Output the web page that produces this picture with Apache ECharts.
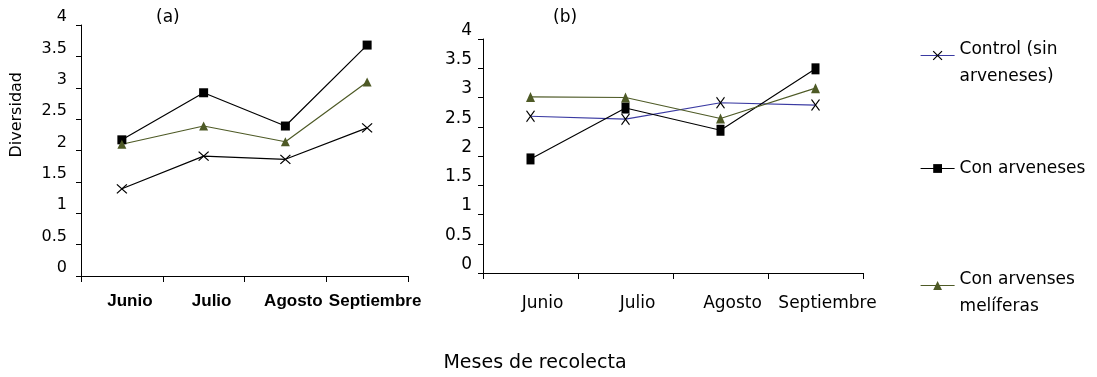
<!DOCTYPE html>
<html>
<head>
<meta charset="utf-8">
<script src="https://cdn.jsdelivr.net/npm/echarts@6/dist/echarts.min.js"></script>
<style>
html,body{margin:0;padding:0;background:#fff;}
#chart{width:1097px;height:377px;}
</style>
</head>
<body>
<div id="chart"></div>
<script>
// ---- data ----
var months = ['Junio', 'Julio', 'Agosto', 'Septiembre'];
var seriesNames = ['Control (sin arveneses)', 'Con arveneses', 'Con arvenses melíferas'];
var yTicks = [0, 0.5, 1, 1.5, 2, 2.5, 3, 3.5, 4];

// panel (a)
var aControl = [1.39, 1.91, 1.86, 2.36];
var aArveneses = [2.17, 2.92, 2.39, 3.68];
var aMeliferas = [2.10, 2.39, 2.14, 3.09];

// panel (b)
var bControl = [2.68, 2.63, 2.91, 2.87];
var bArveneses = [1.95, 2.82, 2.44, 3.49];
var bMeliferas = [3.01, 3.00, 2.64, 3.16];

// ---- styles ----
var OLIVE = '#4e5a26';
var BLUE = '#3a3aa2';
var XPATH = 'path://M0,0L10,10M10,0L0,10';
var FONT = 'DejaVu Sans';

var chart = echarts.init(document.getElementById('chart'));

function yAxisCfg(gridIndex, size, margin) {
  return {
    type: 'value', gridIndex: gridIndex, min: 0, max: 4, interval: 0.5,
    axisLine: {show: true, lineStyle: {color: '#000', width: 1}},
    axisTick: {show: true, inside: false, length: 5, lineStyle: {color: '#000'}},
    splitLine: {show: false},
    axisLabel: {
      color: '#000', fontFamily: FONT, fontSize: size, margin: margin,
      verticalAlign: 'bottom',
      formatter: function (v) { return yTicks.indexOf(v) >= 0 ? String(v) : ''; }
    }
  };
}

function xAxisCfg(gridIndex, labelStyle) {
  labelStyle.interval = 0;
  return {
    type: 'category', gridIndex: gridIndex, data: months, boundaryGap: true,
    axisLine: {show: true, lineStyle: {color: '#000', width: 1}},
    axisTick: {show: true, alignWithLabel: false, interval: 0, length: 6, lineStyle: {color: '#000'}},
    axisLabel: labelStyle
  };
}

function lineSeries(name, data, idx, lineColor, symbol, size, symColor, isX, lw) {
  return {
    name: name, type: 'line', xAxisIndex: idx, yAxisIndex: idx, data: data,
    symbol: symbol, symbolSize: size, showSymbol: true,
    lineStyle: {color: lineColor, width: lw},
    itemStyle: isX ? {color: 'rgba(0,0,0,0)', borderColor: symColor, borderWidth: 1.2}
                   : {color: symColor, borderWidth: 0},
    emphasis: {disabled: true},
    animation: false
  };
}

function legendCfg(i, top, lineColor, symColor, isX) {
  var label = seriesNames[i];
  var fmt;
  if (i === 0) fmt = '{s|}\n{t|Control (sin}\n{t|arveneses)}';
  else if (i === 2) fmt = '{s|}\n{t|Con arvenses}\n{t|melíferas}';
  else fmt = '{t|' + label + '}';
  return {
    left: 920, top: top, padding: 0, orient: 'vertical',
    itemWidth: 34, itemHeight: 11,
    selectedMode: false,
    data: [{
      name: label,
      itemStyle: isX ? {color: 'rgba(0,0,0,0)', borderColor: symColor, borderWidth: 1.2}
                     : {color: symColor, borderWidth: 0},
      lineStyle: {color: lineColor, width: 1.2}
    }],
    formatter: function () { return fmt; },
    textStyle: {
      color: '#000', fontFamily: FONT, fontSize: 17,
      rich: {
        s: {lineHeight: 16, fontSize: 1},
        t: {lineHeight: 27, fontSize: 17, fontFamily: FONT, color: '#000'}
      }
    }
  };
}

var option = {
  backgroundColor: '#fff',
  animation: false,
  title: [
    {text: '(a)', left: 156, top: 9, padding: 0,
     textStyle: {fontFamily: FONT, fontSize: 17, fontWeight: 'normal', color: '#000'}},
    {text: '(b)', left: 553, top: 9, padding: 0,
     textStyle: {fontFamily: FONT, fontSize: 17, fontWeight: 'normal', color: '#000'}},
    {text: 'Meses de recolecta', left: 535, top: 354, textAlign: 'center', padding: 0,
     textStyle: {fontFamily: FONT, fontSize: 19, fontWeight: 'normal', color: '#000'}}
  ],
  graphic: [{
    type: 'text', left: 9, top: 72, rotation: Math.PI / 2,
    style: {text: 'Diversidad', fontFamily: FONT, fontSize: 16, fill: '#000'}
  }],
  legend: [
    legendCfg(0, 28, BLUE, '#000', true),
    legendCfg(1, 160, '#000', '#000', false),
    legendCfg(2, 258, OLIVE, OLIVE, false)
  ],
  grid: [
    {left: 81, top: 25, width: 327, height: 251, containLabel: false},
    {left: 483, top: 39, width: 380, height: 234, containLabel: false}
  ],
  xAxis: [
    xAxisCfg(0, {color: '#000', fontFamily: 'Liberation Sans', fontWeight: 'bold', fontSize: 17,
                 margin: 17, padding: [0, 0, 0, 16]}),
    xAxisCfg(1, {color: '#000', fontFamily: FONT, fontSize: 17, margin: 22, padding: [0, 0, 0, 24]})
  ],
  yAxis: [yAxisCfg(0, 16, 14), yAxisCfg(1, 17, 11)],
  series: [
    lineSeries(seriesNames[0], bControl, 1, BLUE, XPATH, [8, 11], '#000', true, 1.1),
    lineSeries(seriesNames[1], bArveneses, 1, '#000', 'rect', [8, 11], '#000', false, 1.1),
    lineSeries(seriesNames[2], bMeliferas, 1, OLIVE, 'triangle', [9, 10], OLIVE, false, 1.1),
    lineSeries(seriesNames[0], aControl, 0, '#000', XPATH, [10, 9], '#000', true, 1.2),
    lineSeries(seriesNames[1], aArveneses, 0, '#000', 'rect', [9, 9], '#000', false, 1.2),
    lineSeries(seriesNames[2], aMeliferas, 0, OLIVE, 'triangle', [9, 9], OLIVE, false, 1.2)
  ]
};
chart.setOption(option);
</script>
</body>
</html>
